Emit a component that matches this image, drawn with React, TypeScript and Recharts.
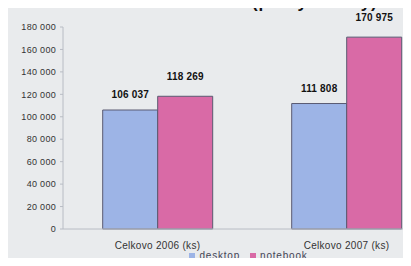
import { BarChart, Bar, XAxis, YAxis, LabelList, Legend } from "recharts";

const categories = ["Celkovo 2006 (ks)", "Celkovo 2007 (ks)"];
const desktop = [106037, 111808];
const notebook = [118269, 170975];
const yTicks = [0, 20000, 40000, 60000, 80000, 100000, 120000, 140000, 160000, 180000];

const data = categories.map((name, i) => ({
  name,
  desktop: desktop[i],
  notebook: notebook[i],
}));

const fmt = (v: number) => String(v).replace(/\B(?=(\d{3})+(?!\d))/g, " ");

const font = "'Liberation Sans', Arial, sans-serif";

// value label drawn as one svg text so recharts does not wrap it at the space
const valueLabel = (gap: number) => (props: any) => {
  const { x, y, width, value } = props;
  return (
    <text
      x={x + width / 2}
      y={y - gap}
      textAnchor="middle"
      fontSize={10}
      fontWeight={700}
      letterSpacing={0.2}
      fill="#111"
      fontFamily={font}
    >
      {fmt(value)}
    </text>
  );
};

export default function App() {
  return (
    <div
      style={{
        position: "relative",
        width: 411,
        height: 266,
        margin: -8,
        overflow: "hidden",
        background: "#e9ebed",
        fontFamily: font,
      }}
    >
      <div style={{ position: "absolute", top: 0, left: 0 }}>
        <BarChart
          width={446}
          height={266}
          data={data}
          margin={{ top: 27, right: 5, bottom: 0, left: 0 }}
          barCategoryGap="21%"
          barGap={0}
        >
          <XAxis
            dataKey="name"
            tickLine={false}
            axisLine={{ stroke: "#b8bcc4" }}
            height={24}
            tick={{ fontSize: 10, fill: "#333", fontFamily: font, letterSpacing: 0.3 }}
            tickMargin={7}
          />
          <YAxis
            width={63}
            domain={[0, 180000]}
            ticks={yTicks}
            tickFormatter={fmt}
            axisLine={{ stroke: "#b8bcc4" }}
            tickLine={{ stroke: "#b8bcc4" }}
            tickSize={3}
            tickMargin={4}
            tick={{ fontSize: 9, fill: "#333", fontFamily: font, letterSpacing: 0.3 }}
            interval={0}
          />
          <Legend
            verticalAlign="bottom"
            height={13}
            iconType="square"
            iconSize={6}
            wrapperStyle={{
              fontSize: 10,
              letterSpacing: 0.8,
              fontFamily: font,
              left: 33,
              bottom: 3,
              lineHeight: "12px",
            }}
            formatter={(v: string) => <span style={{ color: "#445" }}>{v}</span>}
          />
          <Bar dataKey="desktop" fill="#9db4e6" stroke="#5a5a72" strokeWidth={1} isAnimationActive={false}>
            <LabelList dataKey="desktop" content={valueLabel(12)} />
          </Bar>
          <Bar dataKey="notebook" fill="#d96aa6" stroke="#5a5a72" strokeWidth={1} isAnimationActive={false}>
            <LabelList dataKey="notebook" content={valueLabel(16)} />
          </Bar>
        </BarChart>
      </div>
      {/* title, cut off at the top like the scan */}
      <div
        style={{
          position: "absolute",
          top: -6,
          left: 0,
          width: 438,
          height: 17,
          lineHeight: "17px",
          textAlign: "center",
          fontWeight: 700,
          fontSize: 17,
          letterSpacing: 0.8,
          color: "#111",
          whiteSpace: "nowrap",
        }}
      >
        v rokoch 2007 a 2006 (počty v kusy)
      </div>
    </div>
  );
}
